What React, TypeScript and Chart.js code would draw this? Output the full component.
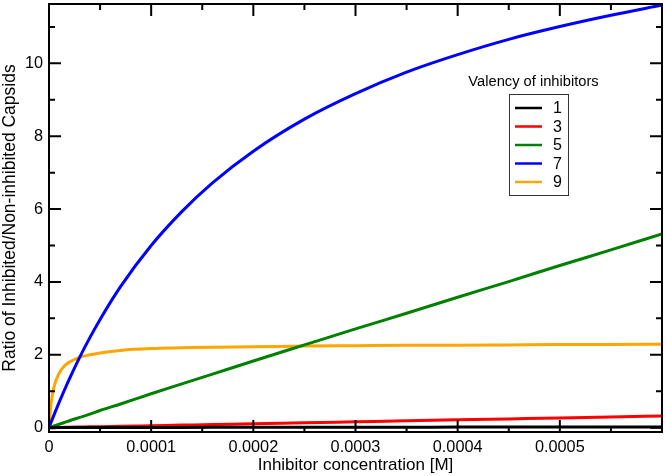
import React, { useEffect, useRef } from "react";
import { Chart, registerables } from "chart.js";

Chart.register(...registerables);

// Inhibitor concentration [M]
const concentration = [
  0, 0.000002, 0.000005, 0.00001, 0.000015, 0.00002, 0.00003, 0.00004, 0.00005,
  0.00007, 0.0001, 0.00013, 0.00016, 0.0002, 0.00025, 0.0003, 0.00035, 0.0004,
  0.00045, 0.0005, 0.00055, 0.0006,
];

const valency1 = [
  0, 0, 0, 0.001, 0.001, 0.001, 0.002, 0.002, 0.003, 0.004, 0.005, 0.006, 0.007,
  0.008, 0.009, 0.011, 0.012, 0.014, 0.015, 0.016, 0.018, 0.02,
];
const valency3 = [
  0, 0.001, 0.003, 0.005, 0.008, 0.011, 0.016, 0.021, 0.027, 0.037, 0.053, 0.069,
  0.085, 0.107, 0.133, 0.16, 0.187, 0.213, 0.24, 0.267, 0.293, 0.32,
];
const valency5 = [
  0, 0.019, 0.047, 0.094, 0.14, 0.19, 0.28, 0.37, 0.47, 0.65, 0.93, 1.2, 1.47,
  1.83, 2.27, 2.71, 3.14, 3.58, 4.01, 4.45, 4.88, 5.32,
];
const valency7 = [
  0, 0.145, 0.358, 0.7, 1.027, 1.34, 1.93, 2.47, 2.97, 3.87, 5.0, 5.93, 6.72,
  7.59, 8.47, 9.17, 9.76, 10.24, 10.66, 11.01, 11.32, 11.6,
];
const valency9 = [
  0, 0.65, 1.13, 1.5, 1.69, 1.8, 1.93, 2.0, 2.05, 2.12, 2.17, 2.19, 2.21, 2.22,
  2.24, 2.25, 2.26, 2.26, 2.27, 2.28, 2.28, 2.29,
];

const seriesLabels = ["1", "3", "5", "7", "9"];
const seriesValues = [valency1, valency3, valency5, valency7, valency9];
const seriesColors = ["#000000", "#ff0000", "#008000", "#0000ff", "#ffa500"];

const legendTitle = "Valency of inhibitors";
const xTitle = "Inhibitor concentration [M]";
const yTitle = "Ratio of Inhibited/Non-inhibited Capsids";

const xMajorTicks = [0, 0.0001, 0.0002, 0.0003, 0.0004, 0.0005, 0.0006];
const xMinorTicks = [0.00005, 0.00015, 0.00025, 0.00035, 0.00045, 0.00055];
const yMajorTicks = [0, 2, 4, 6, 8, 10];
const yMinorTicks = [1, 3, 5, 7, 9, 11];

const FONT = "'Liberation Sans', Arial, Helvetica, sans-serif";

const framePlugin = {
  id: "frameTicks",
  afterDatasetsDraw(chart: any) {
    const { ctx, chartArea, scales } = chart;
    const { left, right, top, bottom } = chartArea;
    const xs = scales.x;
    const ys = scales.y;
    ctx.save();
    ctx.strokeStyle = "#000";
    ctx.lineWidth = 2;
    ctx.lineCap = "butt";
    ctx.beginPath();
    const major = 12;
    const minor = 6;
    const drawX = (v: number, len: number) => {
      const px = xs.getPixelForValue(v);
      ctx.moveTo(px, bottom);
      ctx.lineTo(px, bottom - len);
      ctx.moveTo(px, top);
      ctx.lineTo(px, top + len);
    };
    const drawY = (v: number, len: number) => {
      const py = ys.getPixelForValue(v);
      ctx.moveTo(left, py);
      ctx.lineTo(left + len, py);
      ctx.moveTo(right, py);
      ctx.lineTo(right - len, py);
    };
    xMajorTicks.forEach((v) => drawX(v, major));
    xMinorTicks.forEach((v) => drawX(v, minor));
    yMajorTicks.forEach((v) => drawY(v, major));
    yMinorTicks.forEach((v) => drawY(v, minor));
    ctx.stroke();
    ctx.strokeRect(left, top, right - left, bottom - top);
    ctx.restore();
  },
};

const legendPlugin = {
  id: "customLegend",
  afterDraw(chart: any) {
    const { ctx, chartArea } = chart;
    const boxRight = chartArea.right - 94;
    const boxLeft = boxRight - 59;
    const boxTop = chartArea.top + 90;
    const boxBottom = boxTop + 101;
    ctx.save();
    ctx.fillStyle = "#000";
    ctx.font = `14.7px ${FONT}`;
    ctx.textAlign = "center";
    ctx.textBaseline = "middle";
    ctx.fillText(legendTitle, (boxLeft + boxRight) / 2 - 5, chartArea.top + 78);
    ctx.strokeStyle = "#333";
    ctx.lineWidth = 1;
    ctx.strokeRect(boxLeft + 0.5, boxTop + 0.5, boxRight - boxLeft, boxBottom - boxTop);
    ctx.font = `16px ${FONT}`;
    ctx.textAlign = "left";
    seriesLabels.forEach((lab, i) => {
      const y = boxTop + 14 + i * 18.5;
      ctx.strokeStyle = seriesColors[i];
      ctx.lineWidth = 2.5;
      ctx.beginPath();
      ctx.moveTo(boxLeft + 6, y);
      ctx.lineTo(boxLeft + 33, y);
      ctx.stroke();
      ctx.fillStyle = "#000";
      ctx.fillText(lab, boxLeft + 44, y + 1);
    });
    ctx.restore();
  },
};

export default function App() {
  const ref = useRef<HTMLCanvasElement | null>(null);

  useEffect(() => {
    if (!ref.current) return;
    const chart = new Chart(ref.current, {
      type: "line",
      data: {
        labels: concentration,
        datasets: seriesLabels.map((lab, i) => ({
          label: lab,
          data: concentration.map((x, j) => ({ x, y: seriesValues[i][j] })),
          borderColor: seriesColors[i],
          backgroundColor: seriesColors[i],
          borderWidth: 3,
          pointRadius: 0,
          fill: false,
          cubicInterpolationMode: "monotone" as const,
        })),
      },
      options: {
        animation: false,
        responsive: false,
        maintainAspectRatio: false,
        layout: { padding: { top: 4, right: 4, left: 0, bottom: 0 } },
        plugins: {
          legend: { display: false },
          tooltip: { enabled: false },
        },
        scales: {
          x: {
            type: "linear",
            min: 0,
            max: 0.0006,
            grid: { display: false, drawTicks: false },
            border: { display: false },
            ticks: {
              stepSize: 0.0001,
              includeBounds: false,
              maxRotation: 0,
              autoSkip: false,
              padding: 6,
              color: "#000",
              font: { family: FONT, size: 16.3 },
              callback: (v: any) => {
                const n = Number(v);
                if (n === 0) return "0";
                if (n > 0.00055) return "";
                return n.toFixed(4);
              },
            },
            title: {
              display: true,
              text: xTitle,
              color: "#000",
              font: { family: FONT, size: 17 },
              padding: { top: 0, bottom: 0.8 },
            },
            afterFit: (s: any) => {
              s.height = 44;
              s.paddingLeft = 0;
              s.paddingRight = 0;
            },
          },
          y: {
            type: "linear",
            min: -0.12,
            max: 11.63,
            grid: { display: false, drawTicks: false },
            border: { display: false },
            ticks: {
              stepSize: 2,
              includeBounds: false,
              padding: 6,
              color: "#000",
              font: { family: FONT, size: 16.3 },
            },
            title: {
              display: true,
              text: yTitle,
              color: "#000",
              font: { family: FONT, size: 17.5 },
              padding: { top: 0, bottom: 0 },
            },
            afterFit: (s: any) => {
              s.width = 49;
              s.paddingTop = 0;
              s.paddingBottom = 0;
            },
          },
        },
      },
      plugins: [framePlugin, legendPlugin],
    });
    return () => chart.destroy();
  }, []);

  return (
    <div style={{ position: "fixed", left: 0, top: 0, width: 666, height: 476, background: "#fff" }}>
      <canvas ref={ref} width={666} height={476} style={{ display: "block" }} />
    </div>
  );
}
